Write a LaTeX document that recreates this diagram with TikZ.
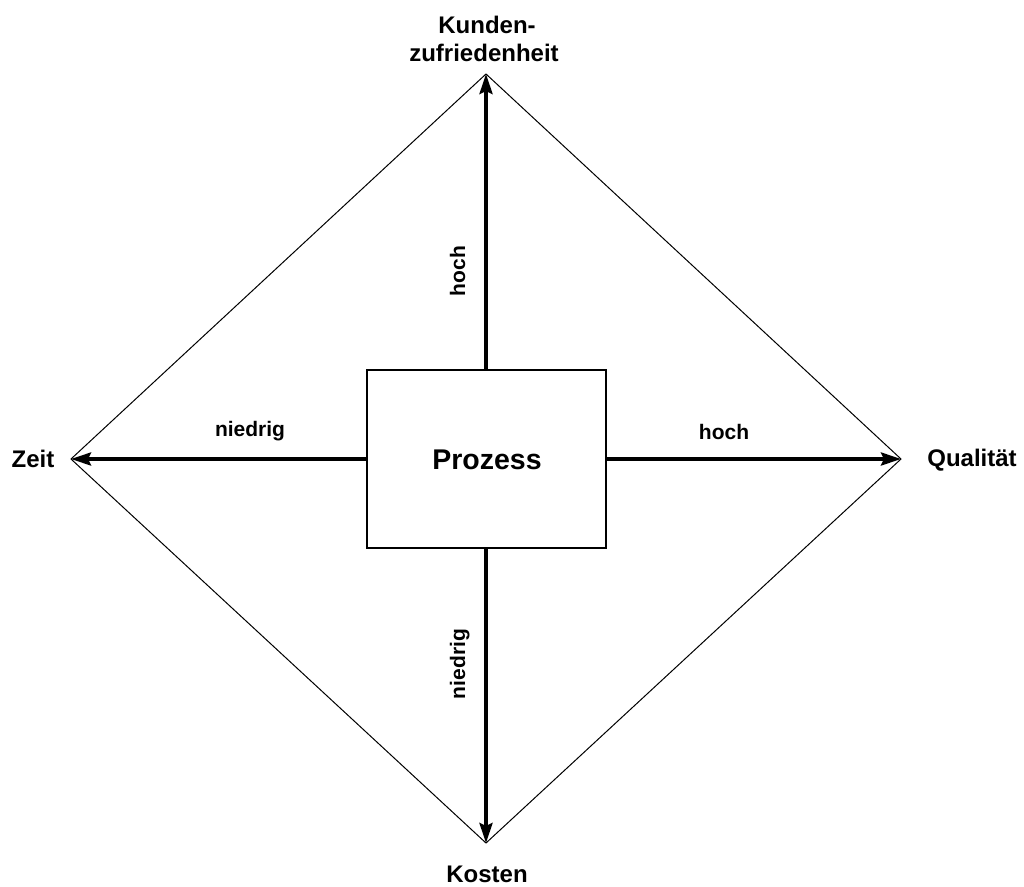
\documentclass[tikz,border=0pt]{standalone}
\usepackage{fontspec}
\setmainfont{Liberation Sans}
\usetikzlibrary{arrows.meta}
\begin{document}
\begin{tikzpicture}[x=1pt,y=-1pt,
  corner/.style={font=\fontsize{24}{28}\selectfont\bfseries, anchor=base, inner sep=0pt},
  axislabel/.style={font=\fontsize{21}{24}\selectfont\bfseries, anchor=base, inner sep=0pt},
  procbox/.style={draw, line width=2pt, minimum width=239pt, minimum height=178pt, inner sep=0pt},
  axis/.style={line width=3.5pt, -{Stealth[length=20pt,width=13pt,inset=3pt]}},
  edge/.style={line width=1pt}]
\useasboundingbox (0,0) rectangle (1024,886);

% diamond corners
\coordinate (top) at (486,74);
\coordinate (bottom) at (486,843);
\coordinate (left) at (71,459);
\coordinate (right) at (901,459);

\draw[edge] (top) -- (right) -- (bottom) -- (left) -- cycle;

% central process box
\node[procbox] (proc) at (486,459) {};
\node[anchor=base, inner sep=0pt, font=\fontsize{28.5}{32}\selectfont\bfseries] (proclabel) at (487,469) {Prozess};

% axes
\draw[axis] (proc.north) -- (top);
\draw[axis] (proc.south) -- (bottom);
\draw[axis] (proc.west) -- (left);
\draw[axis] (proc.east) -- (right);

% corner labels
\node[corner] (k1) at (487,33) {Kunden-};
\node[corner] (k2) at (484,61) {zufriedenheit};
\node[corner] (zeit) at (33,467) {Zeit};
\node[corner] (qual) at (972,466) {Qualität};
\node[corner] (kost) at (487,882) {Kosten};

% axis labels
\node[axislabel] (lu) at (250,436) {niedrig};
\node[axislabel] (hr) at (724,439) {hoch};
\node[axislabel, rotate=90] (ho) at (465,271) {hoch};
\node[axislabel, rotate=90] (nu) at (465,664) {niedrig};
\end{tikzpicture}
\end{document}
